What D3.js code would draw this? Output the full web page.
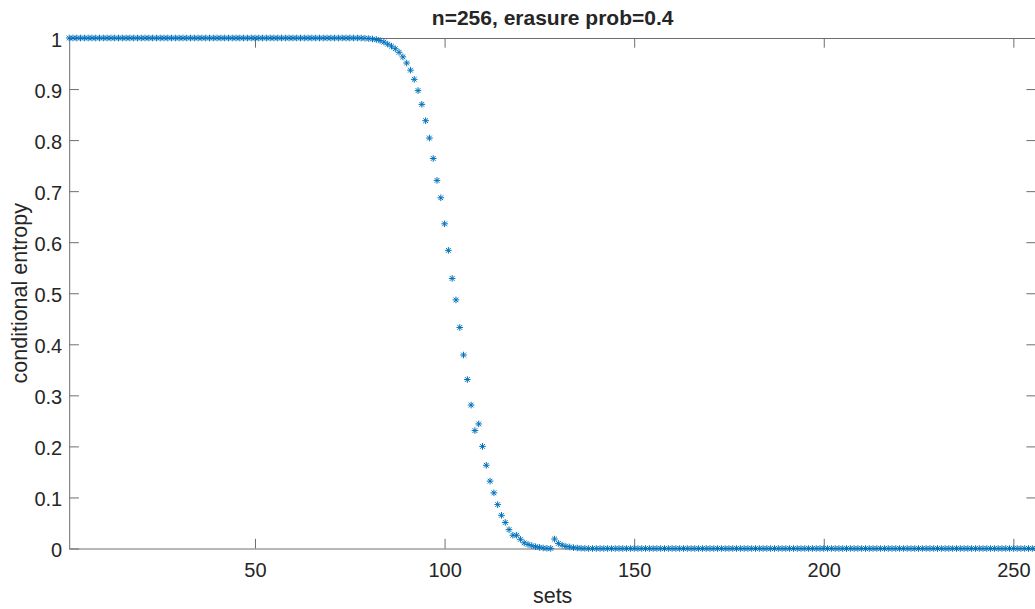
<!DOCTYPE html>
<html lang="en">

<head>
    <meta charset="UTF-8">
    <script src="https://d3js.org/d3.v7.min.js"></script>
    <title>Conditional Entropy</title>
    <style>
        body {
            margin: 0;
            background: #fff;
        }

        text {
            font-family: "Liberation Sans", Arial, Helvetica, sans-serif;
            fill: #262626;
        }
    </style>
</head>

<body>
    <div id="my_dataviz"></div>

    <script>

        // values, index 1..256
        const ones = [1, 1, 1, 1, 1, 1, 1, 1, 1, 1, 1, 1, 1, 1, 1, 1, 1, 1, 1, 1,
            1, 1, 1, 1, 1, 1, 1, 1, 1, 1, 1, 1, 1, 1, 1, 1, 1, 1, 1, 1,
            1, 1, 1, 1, 1, 1, 1, 1, 1, 1, 1, 1, 1, 1, 1, 1, 1, 1, 1, 1,
            1, 1, 1, 1, 1, 1, 1, 1, 1, 1, 1, 1, 1, 1, 1, 1, 1, 1]
        const drop = [0.9995, 0.999, 0.998, 0.997, 0.995, 0.992, 0.988, 0.984, 0.979, 0.972,
            0.963, 0.951, 0.937, 0.919, 0.897, 0.870, 0.838, 0.804, 0.764, 0.721,
            0.687, 0.636, 0.584, 0.529, 0.487, 0.433, 0.379, 0.331, 0.281, 0.231,
            0.244, 0.200, 0.163, 0.132, 0.109, 0.086, 0.065, 0.051, 0.037, 0.026,
            0.026, 0.018, 0.011, 0.008, 0.0055, 0.0035, 0.0023, 0.001, 0.0003, 0.0002,
            0.0186, 0.010, 0.0065, 0.004, 0.003, 0.0015, 0.001, 0.0005, 0.0003]
        const tail = [0, 0, 0, 0, 0, 0, 0, 0, 0, 0, 0, 0, 0, 0, 0, 0, 0, 0, 0, 0,
            0, 0, 0, 0, 0, 0, 0, 0, 0, 0, 0, 0, 0, 0, 0, 0, 0, 0, 0, 0,
            0, 0, 0, 0, 0, 0, 0, 0, 0, 0, 0, 0, 0, 0, 0, 0, 0, 0, 0, 0,
            0, 0, 0, 0, 0, 0, 0, 0, 0, 0, 0, 0, 0, 0, 0, 0, 0, 0, 0, 0,
            0, 0, 0, 0, 0, 0, 0, 0, 0, 0, 0, 0, 0, 0, 0, 0, 0, 0, 0, 0,
            0, 0, 0, 0, 0, 0, 0, 0, 0, 0, 0, 0, 0, 0, 0, 0, 0, 0, 0]
        const entropy = ones.concat(drop, tail)

        const xTicks = [50, 100, 150, 200, 250]
        const yTicks = [0, 0.1, 0.2, 0.3, 0.4, 0.5, 0.6, 0.7, 0.8, 0.9, 1]

        const titleText = "n=256, erasure prob=0.4"
        const xLabel = "sets"
        const yLabel = "conditional entropy"

        // set the dimensions and margins of the graph
        const W = 1035, H = 609
        const margin = { top: 38, left: 69.2, bottom: 60.5 },
            plotRight = 1036.1,
            height = H - margin.top - margin.bottom;

        const svg = d3.select("#my_dataviz")
            .append("svg")
            .attr("width", W)
            .attr("height", H)

        const x = d3.scaleLinear()
            .domain([1, entropy.length])
            .range([margin.left, plotRight]);

        const y = d3.scaleLinear()
            .domain([0, 1])
            .range([margin.top + height, margin.top]);

        const tickLen = 9.7
        const axisColor = "#6e6e6e"

        // bottom axis + labels
        svg.append("g")
            .attr("transform", `translate(0, ${y(0)})`)
            .call(d3.axisBottom(x).tickValues(xTicks).tickSize(-tickLen).tickSizeOuter(0).tickPadding(0))
            .call(g => g.select(".domain").attr("stroke", axisColor))
            .call(g => g.selectAll(".tick line").attr("stroke", axisColor))
            .call(g => g.selectAll(".tick text")
                .attr("y", 28).attr("dy", 0)
                .style("font-size", "20px").style("font-family", "Liberation Sans, Arial, sans-serif").attr("fill", "#262626"));

        // left axis
        svg.append("g")
            .attr("transform", `translate(${x(1)}, 0)`)
            .call(d3.axisLeft(y).tickValues(yTicks).tickFormat(d3.format("~g")).tickSize(-tickLen).tickSizeOuter(0).tickPadding(0))
            .call(g => g.select(".domain").attr("stroke", axisColor))
            .call(g => g.selectAll(".tick line").attr("stroke", axisColor))
            .call(g => g.selectAll(".tick text")
                .attr("x", -7).attr("dy", "0.42em")
                .style("font-size", "20px").style("font-family", "Liberation Sans, Arial, sans-serif").attr("fill", "#262626"));

        // top and right edges of the box, with inward ticks
        svg.append("g")
            .attr("transform", `translate(0, ${y(1)})`)
            .call(d3.axisTop(x).tickValues(xTicks).tickSize(-tickLen).tickSizeOuter(0).tickFormat(""))
            .call(g => g.select(".domain").attr("stroke", axisColor))
            .call(g => g.selectAll(".tick line").attr("stroke", axisColor));

        svg.append("g")
            .attr("transform", `translate(${x(entropy.length)}, 0)`)
            .call(d3.axisRight(y).tickValues(yTicks).tickSize(-tickLen).tickSizeOuter(0).tickFormat(""))
            .call(g => g.select(".domain").attr("stroke", axisColor))
            .call(g => g.selectAll(".tick line").attr("stroke", axisColor));

        // asterisk markers
        const r = 3.3, q = r * 0.72
        const star = `M${-r},0H${r}M0,${-r}V${r}M${-q},${-q}L${q},${q}M${-q},${q}L${q},${-q}`

        svg.append("g")
            .selectAll("path")
            .data(entropy)
            .join("path")
            .attr("transform", (d, i) => `translate(${x(i + 1)},${y(d)})`)
            .attr("d", star)
            .attr("fill", "none")
            .attr("stroke", "#0072BD")
            .attr("stroke-width", 1);

        // title and axis labels
        svg.append("text")
            .attr("x", (margin.left + plotRight) / 2)
            .attr("y", 25)
            .attr("text-anchor", "middle")
            .style("font-size", "21px")
            .style("font-weight", "bold")
            .attr("fill", "#000")
            .text(titleText);

        svg.append("text")
            .attr("x", (margin.left + plotRight) / 2)
            .attr("y", 603)
            .attr("text-anchor", "middle")
            .style("font-size", "21.5px")
            .text(xLabel);

        svg.append("text")
            .attr("transform", `translate(27, ${y(0.5)}) rotate(-90)`)
            .attr("text-anchor", "middle")
            .style("font-size", "21.5px")
            .text(yLabel);

    </script>
</body>

</html>
